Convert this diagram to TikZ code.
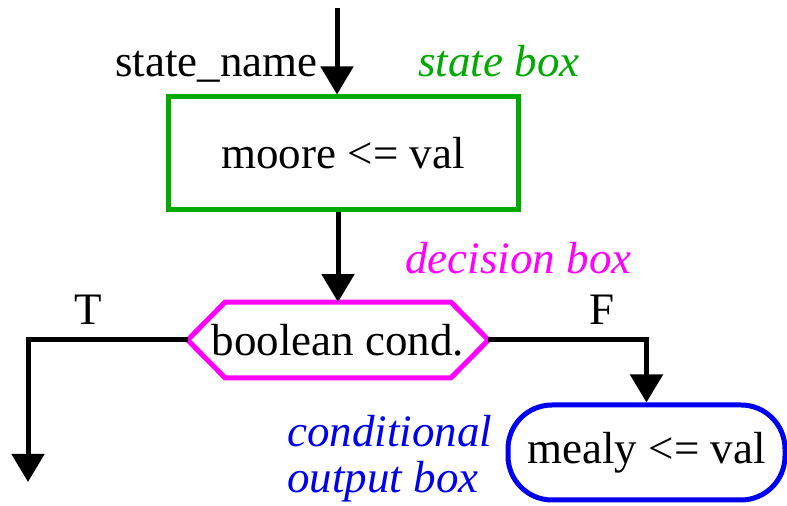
\documentclass[tikz,border=0pt]{standalone}
\usepackage{fontspec}
\setmainfont{Liberation Serif}
\usetikzlibrary{arrows.meta,calc,positioning}
\definecolor{boxgreen}{RGB}{0,170,0}
\definecolor{boxmagenta}{RGB}{255,0,255}
\definecolor{boxblue}{RGB}{0,0,240}
\tikzset{
  flow/.style={line width=2.5pt,-{Triangle[length=14pt,width=16pt]}},
  statebox/.style={draw=boxgreen,line width=2.5pt,minimum width=175pt,minimum height=56.5pt},
  decisionbox/.style={minimum width=150pt,minimum height=37.5pt,inner sep=0pt},
  outputbox/.style={draw=boxblue,line width=2.5pt,rounded corners=22pt,minimum width=138.5pt,minimum height=47.5pt},
  tag/.style={anchor=base west,inner sep=0pt,font=\fontsize{22.5}{23}\selectfont\itshape},
}
\begin{document}
\begin{tikzpicture}[x=0.5pt,y=-0.5pt,font=\fontsize{22.5}{27}\selectfont]
  \useasboundingbox (0,0) rectangle (787,506);
  \node[statebox](moore) at (343,153.5) {moore <= val};
  \node[decisionbox](cond) at (338,340) {boolean cond.};
  \node[outputbox](mealy) at (646.5,452.5) {mealy <= val};
  \coordinate(entry) at (337,8);
  \coordinate(tout) at (28,482);
  \node[anchor=base east,inner sep=0pt](name) at (318,77) {state\_name};
  \node[tag,text=boxgreen](statetag) at (418,77) {state box};
  \node[tag,text=boxmagenta](condtag) at (405,274) {decision box};
  \node[tag,text=boxblue](outtag1) at (287,447) {conditional};
  \node[tag,text=boxblue](outtag2) at (287,493) {output box};
  \node[anchor=base,inner sep=0pt](T) at (88,325) {T};
  \node[anchor=base,inner sep=0pt](F) at (602,325) {F};
  % hexagon of the decision box
  \draw[boxmagenta,line width=2.5pt,line join=miter]
    (cond.west)--($(cond.north west)+(37.5,0)$)--($(cond.north east)+(-37.5,0)$)
    --(cond.east)--($(cond.south east)+(-37.5,0)$)--($(cond.south west)+(37.5,0)$)--cycle;
  \draw[flow](entry)--(entry|-moore.north);
  \draw[flow](moore.south-|cond.north)--(cond.north);
  \draw[flow](cond.west)-|(tout);
  \draw[flow](cond.east)-|(mealy.north);
\end{tikzpicture}
\end{document}
